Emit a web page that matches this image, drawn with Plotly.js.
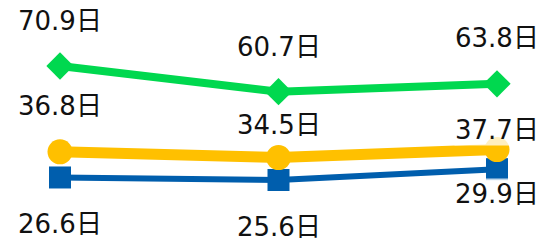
<!DOCTYPE html>
<html><head><meta charset="utf-8">
<script src="https://cdn.plot.ly/plotly-3.0.1.min.js"></script>
<style>html,body{margin:0;padding:0;background:#fff}#c{width:549px;height:241px}</style>
</head><body><div id="c"></div>
<script>
const categories = ["A", "B", "C"];
const greenValues = [70.9, 60.7, 63.8];
const yellowValues = [36.8, 34.5, 37.7];
const blueValues = [26.6, 25.6, 29.9];
const unit = "日";

const xIdx = categories.map((_, i) => i);
const series = [
  {v: greenValues, color: "#00D84F", width: 8, symbol: "diamond", size: 21, shifts: [45, 45, 46]},
  {v: blueValues, color: "#005EAD", width: 6, symbol: "square", size: 22, shifts: [-47, -47, -25]},
  {v: yellowValues, color: "#FFC000", width: 11, symbol: "circle", size: 25, shifts: [46, 33, 20]}
];
const traces = series.map(s => ({
  x: xIdx, y: s.v, type: "scatter", mode: "lines+markers",
  line: {color: s.color, width: s.width},
  marker: {color: s.color, symbol: s.symbol, size: s.size},
  hoverinfo: "none"
}));
// draw order: blue, yellow, green
const ordered = [traces[1], traces[2], traces[0]];
const annotations = [];
series.forEach(s => {
  s.v.forEach((val, i) => {
    annotations.push({
      x: xIdx[i], y: val, xref: "x", yref: "y", showarrow: false,
      text: val.toFixed(1) + unit, yshift: s.shifts[i],
      font: {family: "DejaVu Sans, Noto Sans CJK JP, sans-serif", size: 26, color: "#111"},
      bgcolor: "rgba(255,255,255,0.75)", borderpad: 0
    });
  });
});
Plotly.newPlot("c", ordered, {
  width: 549, height: 241,
  margin: {l: 0, r: 0, t: 0, b: 0},
  paper_bgcolor: "#fff", plot_bgcolor: "#fff",
  showlegend: false,
  xaxis: {range: [-0.2746, 2.238], visible: false, fixedrange: true},
  yaxis: {range: [1.36, 97.13], visible: false, fixedrange: true},
  annotations: annotations
}, {staticPlot: true, displayModeBar: false});
</script></body></html>
